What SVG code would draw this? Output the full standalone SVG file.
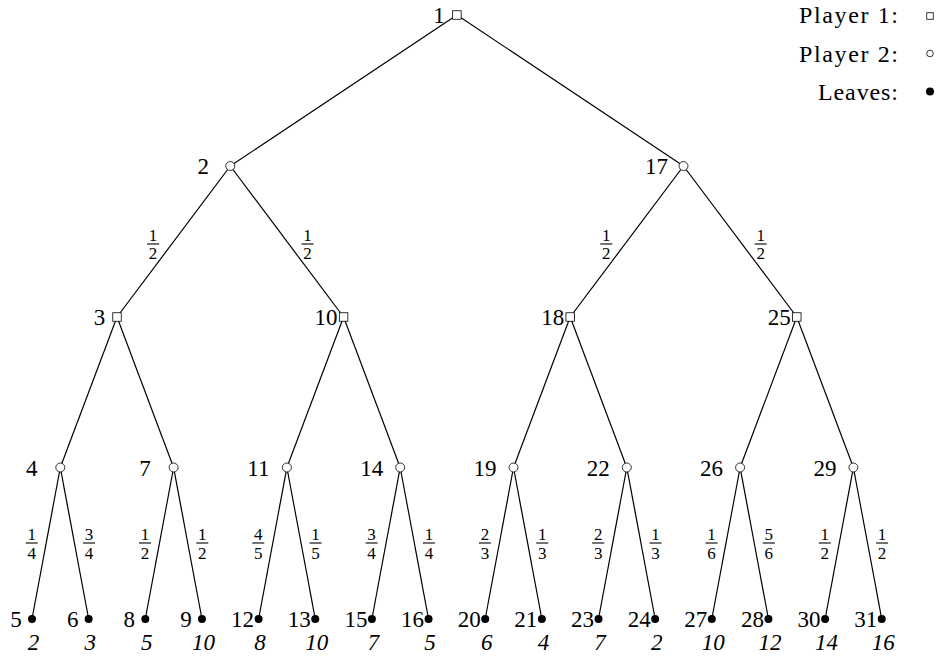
<svg xmlns="http://www.w3.org/2000/svg" width="941" height="658" viewBox="0 0 941 658">
<style>
text{font-family:"Liberation Serif","Times New Roman",serif;fill:#000}
.lbl{font-size:23px;text-anchor:middle}
.val{font-size:23px;font-style:italic;text-anchor:middle}
.leg{font-size:24px;text-anchor:end}
.fr text{font-size:17px;text-anchor:middle}
.fr line{stroke:#000;stroke-width:1.1}
.edge{stroke:#000;stroke-width:1.2;fill:none}
.p1{fill:#fff;stroke:#000;stroke-width:0.8}
.p2{fill:#fff;stroke:#000;stroke-width:0.8}
.leaf{fill:#000}
</style>
<defs>
<rect id="sq" x="-4.25" y="-4.25" width="8.5" height="8.5" class="p1"/>
<circle id="ci" r="4.5" class="p2"/>
<circle id="dot" r="4" class="leaf"/>
</defs>
<g id="connectors">
<line class="edge" x1="456.9" y1="15" x2="230.3" y2="166"/>
<line class="edge" x1="456.9" y1="15" x2="683.5" y2="166"/>
<line class="edge" x1="230.3" y1="166" x2="117" y2="317"/>
<line class="edge" x1="230.3" y1="166" x2="343.6" y2="317"/>
<line class="edge" x1="683.5" y1="166" x2="570.2" y2="317"/>
<line class="edge" x1="683.5" y1="166" x2="796.8" y2="317"/>
<line class="edge" x1="117" y1="317" x2="60.3" y2="467.5"/>
<line class="edge" x1="117" y1="317" x2="173.6" y2="467.5"/>
<line class="edge" x1="343.6" y1="317" x2="286.9" y2="467.5"/>
<line class="edge" x1="343.6" y1="317" x2="400.2" y2="467.5"/>
<line class="edge" x1="570.2" y1="317" x2="513.5" y2="467.5"/>
<line class="edge" x1="570.2" y1="317" x2="626.8" y2="467.5"/>
<line class="edge" x1="796.8" y1="317" x2="740.1" y2="467.5"/>
<line class="edge" x1="796.8" y1="317" x2="853.4" y2="467.5"/>
<line class="edge" x1="60.3" y1="467.5" x2="32" y2="619"/>
<line class="edge" x1="60.3" y1="467.5" x2="88.65" y2="619"/>
<line class="edge" x1="173.6" y1="467.5" x2="145.3" y2="619"/>
<line class="edge" x1="173.6" y1="467.5" x2="201.95" y2="619"/>
<line class="edge" x1="286.9" y1="467.5" x2="258.6" y2="619"/>
<line class="edge" x1="286.9" y1="467.5" x2="315.25" y2="619"/>
<line class="edge" x1="400.2" y1="467.5" x2="371.9" y2="619"/>
<line class="edge" x1="400.2" y1="467.5" x2="428.55" y2="619"/>
<line class="edge" x1="513.5" y1="467.5" x2="485.2" y2="619"/>
<line class="edge" x1="513.5" y1="467.5" x2="541.85" y2="619"/>
<line class="edge" x1="626.8" y1="467.5" x2="598.5" y2="619"/>
<line class="edge" x1="626.8" y1="467.5" x2="655.15" y2="619"/>
<line class="edge" x1="740.1" y1="467.5" x2="711.8" y2="619"/>
<line class="edge" x1="740.1" y1="467.5" x2="768.45" y2="619"/>
<line class="edge" x1="853.4" y1="467.5" x2="825.1" y2="619"/>
<line class="edge" x1="853.4" y1="467.5" x2="881.75" y2="619"/>
</g>
<g id="probabilities">
<g class="fr"><text x="153.1" y="240.5">1</text><line x1="147.1" y1="244" x2="159.1" y2="244"/><text x="153.1" y="259">2</text></g>
<g class="fr"><text x="307.5" y="240.5">1</text><line x1="301.5" y1="244" x2="313.5" y2="244"/><text x="307.5" y="259">2</text></g>
<g class="fr"><text x="606.3" y="240.5">1</text><line x1="600.3" y1="244" x2="612.3" y2="244"/><text x="606.3" y="259">2</text></g>
<g class="fr"><text x="760.7" y="240.5">1</text><line x1="754.7" y1="244" x2="766.7" y2="244"/><text x="760.7" y="259">2</text></g>
<g class="fr"><text x="31.7" y="539.5">1</text><line x1="25.7" y1="543" x2="37.7" y2="543"/><text x="31.7" y="559">4</text></g>
<g class="fr"><text x="89" y="539.5">3</text><line x1="83" y1="543" x2="95" y2="543"/><text x="89" y="559">4</text></g>
<g class="fr"><text x="145" y="539.5">1</text><line x1="139" y1="543" x2="151" y2="543"/><text x="145" y="559">2</text></g>
<g class="fr"><text x="202.3" y="539.5">1</text><line x1="196.3" y1="543" x2="208.3" y2="543"/><text x="202.3" y="559">2</text></g>
<g class="fr"><text x="258.3" y="539.5">4</text><line x1="252.3" y1="543" x2="264.3" y2="543"/><text x="258.3" y="559">5</text></g>
<g class="fr"><text x="315.6" y="539.5">1</text><line x1="309.6" y1="543" x2="321.6" y2="543"/><text x="315.6" y="559">5</text></g>
<g class="fr"><text x="371.6" y="539.5">3</text><line x1="365.6" y1="543" x2="377.6" y2="543"/><text x="371.6" y="559">4</text></g>
<g class="fr"><text x="428.9" y="539.5">1</text><line x1="422.9" y1="543" x2="434.9" y2="543"/><text x="428.9" y="559">4</text></g>
<g class="fr"><text x="484.9" y="539.5">2</text><line x1="478.9" y1="543" x2="490.9" y2="543"/><text x="484.9" y="559">3</text></g>
<g class="fr"><text x="542.2" y="539.5">1</text><line x1="536.2" y1="543" x2="548.2" y2="543"/><text x="542.2" y="559">3</text></g>
<g class="fr"><text x="598.2" y="539.5">2</text><line x1="592.2" y1="543" x2="604.2" y2="543"/><text x="598.2" y="559">3</text></g>
<g class="fr"><text x="655.5" y="539.5">1</text><line x1="649.5" y1="543" x2="661.5" y2="543"/><text x="655.5" y="559">3</text></g>
<g class="fr"><text x="711.5" y="539.5">1</text><line x1="705.5" y1="543" x2="717.5" y2="543"/><text x="711.5" y="559">6</text></g>
<g class="fr"><text x="768.8" y="539.5">5</text><line x1="762.8" y1="543" x2="774.8" y2="543"/><text x="768.8" y="559">6</text></g>
<g class="fr"><text x="824.8" y="539.5">1</text><line x1="818.8" y1="543" x2="830.8" y2="543"/><text x="824.8" y="559">2</text></g>
<g class="fr"><text x="882.1" y="539.5">1</text><line x1="876.1" y1="543" x2="888.1" y2="543"/><text x="882.1" y="559">2</text></g>
</g>
<g id="n1"><use href="#sq" x="456.9" y="15"/><text class="lbl" x="438.9" y="23">1</text></g>
<g id="n2"><use href="#ci" x="230.3" y="166"/><text class="lbl" x="203.3" y="174">2</text></g>
<g id="n17"><use href="#ci" x="683.5" y="166"/><text class="lbl" x="656.5" y="174">17</text></g>
<g id="n3"><use href="#sq" x="117" y="317"/><text class="lbl" x="99.5" y="325">3</text></g>
<g id="n10"><use href="#sq" x="343.6" y="317"/><text class="lbl" x="326.1" y="325">10</text></g>
<g id="n18"><use href="#sq" x="570.2" y="317"/><text class="lbl" x="552.7" y="325">18</text></g>
<g id="n25"><use href="#sq" x="796.8" y="317"/><text class="lbl" x="779.3" y="325">25</text></g>
<g id="n4"><use href="#ci" x="60.3" y="467.5"/><text class="lbl" x="31.8" y="475.5">4</text></g>
<g id="n7"><use href="#ci" x="173.6" y="467.5"/><text class="lbl" x="145.1" y="475.5">7</text></g>
<g id="n11"><use href="#ci" x="286.9" y="467.5"/><text class="lbl" x="258.4" y="475.5">11</text></g>
<g id="n14"><use href="#ci" x="400.2" y="467.5"/><text class="lbl" x="371.7" y="475.5">14</text></g>
<g id="n19"><use href="#ci" x="513.5" y="467.5"/><text class="lbl" x="485" y="475.5">19</text></g>
<g id="n22"><use href="#ci" x="626.8" y="467.5"/><text class="lbl" x="598.3" y="475.5">22</text></g>
<g id="n26"><use href="#ci" x="740.1" y="467.5"/><text class="lbl" x="711.6" y="475.5">26</text></g>
<g id="n29"><use href="#ci" x="853.4" y="467.5"/><text class="lbl" x="824.9" y="475.5">29</text></g>
<g id="n5"><use href="#dot" x="32" y="619"/><text class="lbl" x="16" y="627">5</text><text class="val" x="33.5" y="650">2</text></g>
<g id="n6"><use href="#dot" x="88.65" y="619"/><text class="lbl" x="72.65" y="627">6</text><text class="val" x="90.2" y="650">3</text></g>
<g id="n8"><use href="#dot" x="145.3" y="619"/><text class="lbl" x="129.3" y="627">8</text><text class="val" x="146.8" y="650">5</text></g>
<g id="n9"><use href="#dot" x="201.95" y="619"/><text class="lbl" x="185.95" y="627">9</text><text class="val" x="203.5" y="650">10</text></g>
<g id="n12"><use href="#dot" x="258.6" y="619"/><text class="lbl" x="242.6" y="627">12</text><text class="val" x="260.1" y="650">8</text></g>
<g id="n13"><use href="#dot" x="315.25" y="619"/><text class="lbl" x="299.25" y="627">13</text><text class="val" x="316.8" y="650">10</text></g>
<g id="n15"><use href="#dot" x="371.9" y="619"/><text class="lbl" x="355.9" y="627">15</text><text class="val" x="373.4" y="650">7</text></g>
<g id="n16"><use href="#dot" x="428.55" y="619"/><text class="lbl" x="412.55" y="627">16</text><text class="val" x="430.1" y="650">5</text></g>
<g id="n20"><use href="#dot" x="485.2" y="619"/><text class="lbl" x="469.2" y="627">20</text><text class="val" x="486.7" y="650">6</text></g>
<g id="n21"><use href="#dot" x="541.85" y="619"/><text class="lbl" x="525.85" y="627">21</text><text class="val" x="543.4" y="650">4</text></g>
<g id="n23"><use href="#dot" x="598.5" y="619"/><text class="lbl" x="582.5" y="627">23</text><text class="val" x="600" y="650">7</text></g>
<g id="n24"><use href="#dot" x="655.15" y="619"/><text class="lbl" x="639.15" y="627">24</text><text class="val" x="656.7" y="650">2</text></g>
<g id="n27"><use href="#dot" x="711.8" y="619"/><text class="lbl" x="695.8" y="627">27</text><text class="val" x="713.3" y="650">10</text></g>
<g id="n28"><use href="#dot" x="768.45" y="619"/><text class="lbl" x="752.45" y="627">28</text><text class="val" x="770" y="650">12</text></g>
<g id="n30"><use href="#dot" x="825.1" y="619"/><text class="lbl" x="809.1" y="627">30</text><text class="val" x="826.6" y="650">14</text></g>
<g id="n31"><use href="#dot" x="881.75" y="619"/><text class="lbl" x="865.75" y="627">31</text><text class="val" x="883.3" y="650">16</text></g>
<g id="legend">
<text class="leg" x="898" y="23" textLength="99" lengthAdjust="spacing">Player 1:</text>
<rect x="926.75" y="12.75" width="6.5" height="6.5" class="p1"/>
<text class="leg" x="898" y="61.5" textLength="99" lengthAdjust="spacing">Player 2:</text>
<circle cx="930" cy="53.5" r="3.3" class="p2"/>
<text class="leg" x="898" y="100" textLength="80" lengthAdjust="spacing">Leaves:</text>
<circle cx="930" cy="91.5" r="4" class="leaf"/>
</g>
</svg>
